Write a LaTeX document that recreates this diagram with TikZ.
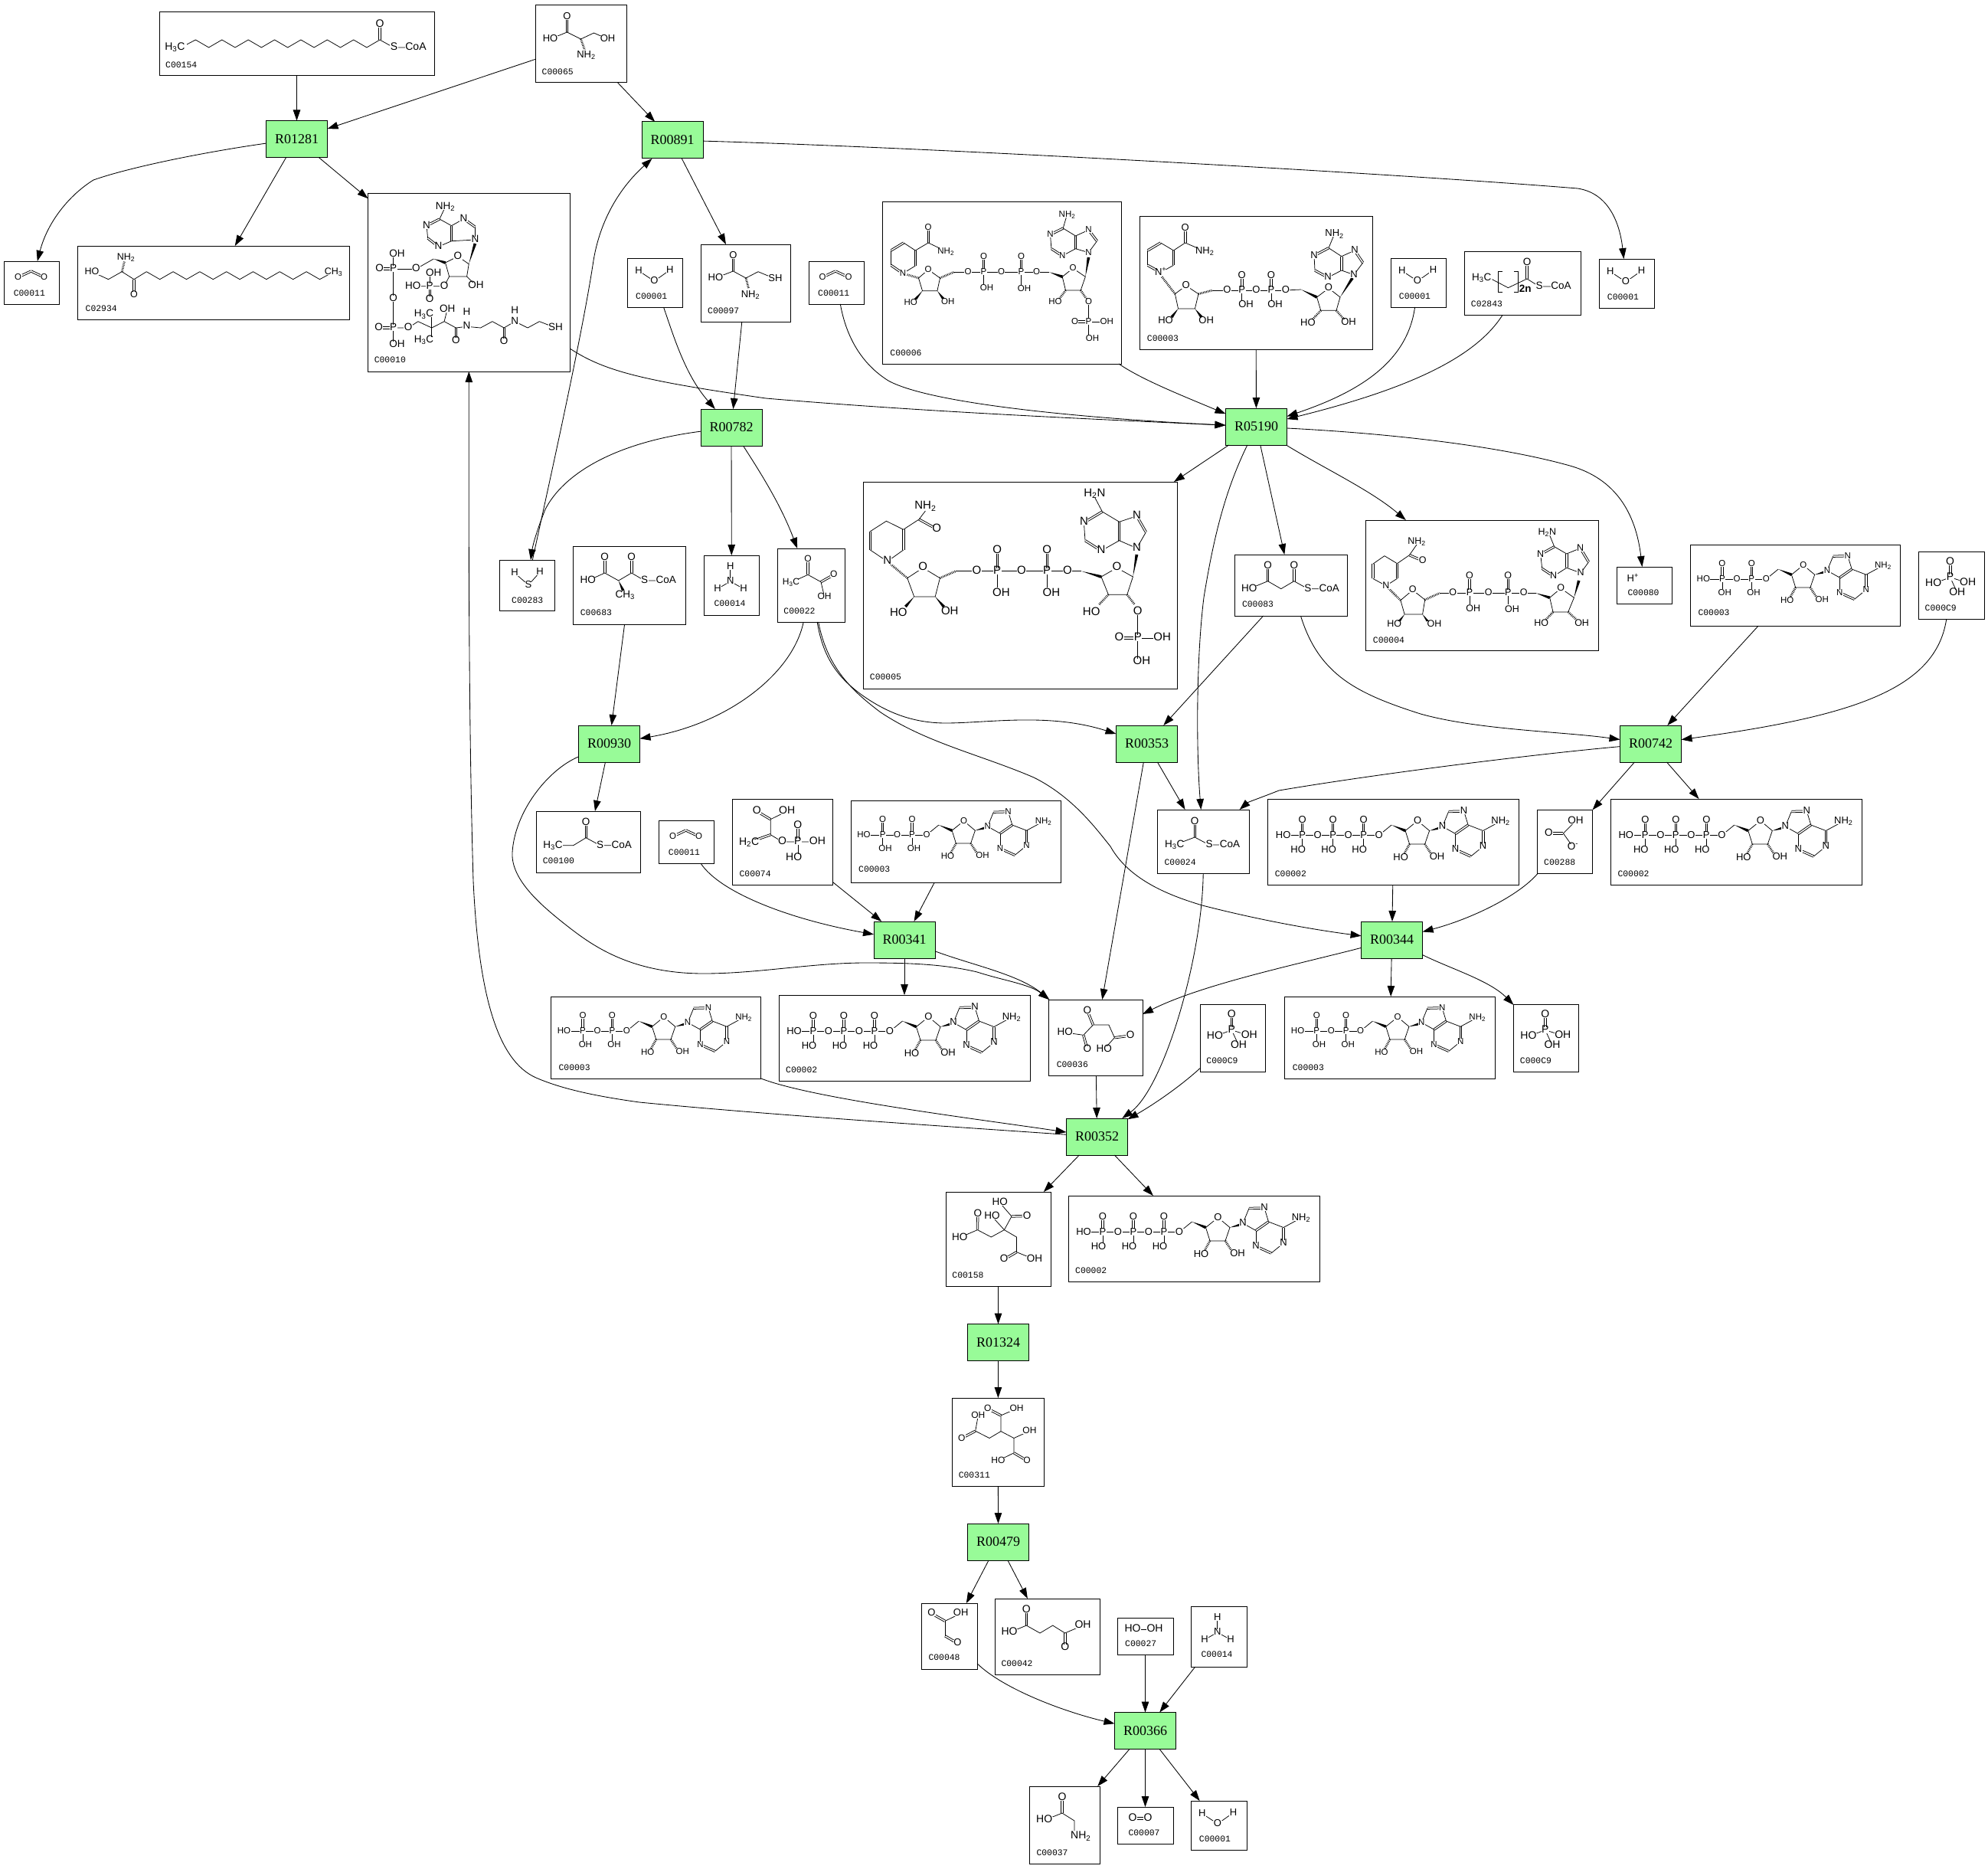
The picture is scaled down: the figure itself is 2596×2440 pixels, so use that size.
\documentclass[tikz,border=0pt]{standalone}
\usepackage{fontspec}
\setmainfont{Liberation Sans}
\newfontfamily\rxnfont{Liberation Serif}
\newfontfamily\lblfontf{Liberation Mono}
\usetikzlibrary{arrows.meta,calc}
\definecolor{rxgreen}{RGB}{152,251,152}
\def\atomfont{\fontsize{13}{13}\selectfont}
\def\afs#1{\def\atomfont{\fontsize{#1}{#1}\selectfont}}
\newcount\atn
\def\At(#1,#2)#3{\global\advance\atn by 1\relax\node[atom] (at\the\atn) at (#1,#2) {#3};}
\def\Bnd#1;{\draw[bond] #1;}
\def\Dbl(#1)--(#2);{\draw[bond] ($(#1)!1.25pt!90:(#2)$)--($(#2)!1.25pt!-90:(#1)$) ($(#1)!1.25pt!-90:(#2)$)--($(#2)!1.25pt!90:(#1)$);}
\def\Wdg(#1)(#2){\fill (#1) -- ($(#2)!1.9pt!90:(#1)$) -- ($(#2)!1.9pt!-90:(#1)$) -- cycle;}
\def\Hsh(#1)(#2){\draw[line width=2.8pt,dash pattern=on .8pt off 1.3pt] (#1)--(#2);}
\def\NHt{NH\textsubscript{2}}
\def\Hc{H\textsubscript{3}C}
% purine: C6 N1 C2 N3 C4 C5 N7 C8 N9
\newcommand\Pur[9]{\Dbl(#1)--(#2); \Bnd (#2)--(#3); \Dbl(#3)--(#4); \Bnd (#4)--(#5); \Dbl(#5)--(#6); \Bnd (#6)--(#1);
 \Bnd (#6)--(#7); \Dbl(#7)--(#8); \Bnd (#8)--(#9)--(#5);
 \At(#2){N}\At(#4){N}\At(#7){N}\At(#9){N}}
% ribose ring: C4' O C1' C2' C3'
\newcommand\Sug[5]{\Bnd (#1)--(#2)--(#3)--(#4)--(#5)--cycle; \At(#2){O}}
% adenosine relative to the 5' oxygen
\newcommand\Ado[3]{\begin{scope}[shift={(#1,#2)},scale=#3]
 \Bnd (0,0)--(16.5,-13.5); \Wdg(16.5,-13.5)(34.5,-6)
 \Sug{34.5,-6}{50.5,-19}{66,-6}{60,11.5}{40,11.5}
 \Hsh(40,11.5)(33,24) \Hsh(60,11.5)(68,24)
 \At(28.5,29.5){HO}\At(76,28){OH}
 \Wdg(66,-6)(81,-10)
 \Bnd (136,-6)--(159,-18.5);
 \Pur{136,-6}{136,14.5}{120,27.5}{100,18.5}{100,-2}{116.5,-13.5}{111,-31.5}{91,-31}{83,-11.5}
 \At(159,-18.5){\NHt}
 \end{scope}}
\newcommand\ATPmol{\afs{13}
 \Bnd (20,47.5)--(145,47.5);
 \Dbl(45,28)--(45,47.5); \Dbl(85,28)--(85,47.5); \Dbl(125,28)--(125,47.5);
 \Bnd (45,47.5)--(45,62); \Bnd (85,47.5)--(85,62); \Bnd (125,47.5)--(125,62);
 \Ado{145}{47.5}{1}
 \At(20,47.5){HO}\At(45,47.5){P}\At(65,47.5){O}\At(85,47.5){P}\At(105,47.5){O}\At(125,47.5){P}\At(145,47.5){O}
 \At(45,28){O}\At(85,28){O}\At(125,28){O}
 \At(39.5,67){HO}\At(79.5,67){HO}\At(119.5,67){HO}}
\newcommand\ADPmol{\afs{11.5}
 \Bnd (17,45)--(99,45);
 \Dbl(41.6,25)--(41.6,45); \Dbl(80,25)--(80,45);
 \Bnd (41.6,45)--(41.6,58); \Bnd (80,45)--(80,58);
 \Ado{99}{45}{.96}
 \At(17,45){HO}\At(41.6,45){P}\At(60.7,45){O}\At(80,45){P}\At(99,45){O}
 \At(41.6,25){O}\At(80,25){O}\At(45,63){OH}\At(82.6,63){OH}}
\newcommand\COtwo{\afs{11.5}\Dbl(18,21)--(35,13); \Dbl(35,13)--(52,21); \At(18,21){O}\At(52,21){O}}
\newcommand\Water{\afs{13}\Bnd (14.7,16.5)--(35,30)--(55.5,15.5); \At(14.7,16.5){H}\At(35,30){O}\At(55.5,15.5){H}}
\newcommand\PiMol{\afs{14}\Dbl(41.3,14.3)--(41.3,33.7); \Bnd (41.3,33.7)--(19.4,42); \Bnd (41.3,33.7)--(64.3,41); \Bnd (41.3,33.7)--(50.5,53.7);
 \At(41.3,14.3){O}\At(41.3,33.7){P}\At(19.4,42){HO}\At(64.3,41){OH}\At(50.5,53.7){OH}}
\newcommand\Ammonia{\afs{13}\Bnd (34.7,15)--(34.7,34); \Bnd (18,43.7)--(34.7,34)--(52,43.7); \At(34.7,15){H}\At(34.7,34){N}\At(18,43.7){H}\At(52,43.7){H}}
\newcommand\Cpd[9]{%
 \pgfmathsetmacro\cpW{#4-#2}\pgfmathsetmacro\cpH{#5-#3}\pgfmathsetmacro\cpX{(#2+#4)/2}\pgfmathsetmacro\cpY{(#3+#5)/2}%
 \node[cpd,minimum width=\cpW pt,minimum height=\cpH pt] (#1) at (\cpX,\cpY) {};
 \begin{scope}[shift={(#2,#3)}] #9 \node[lbl] (#1-l) at (#7,#8) {#6}; \end{scope}}
\tikzset{
 cpd/.style={draw,line width=1pt,inner sep=0,outer sep=0,fill=white},
 rxn/.style={draw,line width=1pt,fill=rxgreen,inner sep=0,outer sep=0,minimum width=80pt,minimum height=48pt,font=\rxnfont\fontsize{18}{18}\selectfont},
 lbl/.style={anchor=west,inner sep=0,font=\lblfontf\fontsize{11.4}{11.4}\selectfont},
 atom/.style={inner sep=.5pt,fill=white,text height=.72em,text depth=0pt,font=\atomfont},
 bond/.style={line width=.75pt},
 arr/.style={-{Triangle[length=14pt,width=9.5pt]},line width=.85pt}
}
\begin{document}
\begin{tikzpicture}[x=1pt,y=-1pt]
\useasboundingbox (0,0) rectangle (2596,2440);
\fill[white] (0,0) rectangle (2596,2440);
% ---- reactions
\foreach \nm/\px/\py in {R01281/387.5/181.5,R00891/878/183,R00782/955/558,R05190/1640.5/557,R00930/795.5/971,R00353/1497.5/971,R00742/2155.5/971,R00341/1181/1227,R00344/1817.6/1227,R00352/1432.5/1484,R01324/1303.5/1752.5,R00479/1303.5/2013,R00366/1495.5/2259.5}{
 \node[rxn] (\nm) at (\px,\py) {\nm};
}
% ---- compounds
\Cpd{c154}{208}{16}{567}{99}{C00154}{8}{68.7}{\afs{14}
 \Bnd (36,42)--(47.4,36)--(64.6,46)--(81.8,36)--(99,46)--(116.2,36)--(133.4,46)--(150.5,36)--(167.7,46)--(184.9,36)--(202.1,46)--(219.3,36)--(236.5,46)--(253.7,36)--(270.9,46)--(288,36)--(306,46)--(335,46);
 \Dbl(288,16)--(288,36);
 \At(20.4,46){\Hc}\At(288,16){O}\At(306.6,46){S}\At(335,46){CoA}}
\Cpd{c65}{699.5}{7}{818}{108}{C00065}{8}{87}{\afs{13}
 \Dbl(41,15)--(41,35); \Bnd (19,44)--(41,35)--(59,44)--(76,36)--(94,44); \Hsh(59,44)(64,58)
 \At(41,15){O}\At(19,44){HO}\At(94,44){OH}\At(66,65){\NHt}}
\Cpd{c97}{915.7}{319}{1032}{420}{C00097}{8.3}{86.7}{\afs{13}
 \Dbl(41.7,14.7)--(41.7,35); \Bnd (18.7,44)--(41.7,35)--(58.3,44)--(74.3,35.7)--(96.7,45); \Hsh(58.3,44)(62,58)
 \At(41.7,14.7){O}\At(18.7,44){HO}\At(96.7,45){SH}\At(64.3,65.7){\NHt}}
\Cpd{c11a}{5.6}{341}{77.5}{397}{C00011}{12}{42}{\COtwo}
\Cpd{c11c}{1056}{341}{1128.6}{397}{C00011}{12}{42}{\COtwo}
\Cpd{c11m}{860.7}{1071}{932.4}{1127}{C00011}{12}{42}{\COtwo}
\Cpd{c2934}{101.5}{321}{456.6}{417}{C02934}{10}{82}{\afs{12.5}
 \Bnd (18.4,33.7)--(40,43.7)--(57.7,33.7)--(73.5,43.7)--(89.8,33.7)--(107.2,43.7)--(124.6,33.7)--(142,43.7)--(159.4,33.7)--(176.8,43.7)--(194.2,33.7)--(211.6,43.7)--(229,33.7)--(246.4,43.7)--(263.8,33.7)--(281.2,43.7)--(298.6,33.7)--(316,43.7)--(334,34);
 \Dbl(73.5,43.7)--(73.5,63.7); \Hsh(57.7,33.7)(61,20)
 \At(18.4,33.7){HO}\At(63,15){\NHt}\At(73.5,63.7){O}\At(334,34){CH\textsubscript{3}}}
\Cpd{c10}{480.6}{253}{744.4}{485}{C00010}{8}{216.7}{\afs{13.5}
 \Bnd (93.4,33)--(101,16.7);
 \Pur{93.4,33}{76.5,41.7}{78,58}{92,69}{109,61.7}{109,41.7}{125,32.7}{139.8,43.3}{139.8,60}
 \At(101,16.7){\NHt}
 \Wdg(131.6,91.7)(139.8,65)
 \Sug{101,90}{117.3,81.7}{131.6,91.7}{129,108}{106,108}
 \Wdg(85.7,85)(101,90)
 \Bnd (129,108)--(141,120); \Bnd (106,108)--(99.5,120.7)--(58.7,120.7); \Bnd (80.6,104)--(80.6,120.7); \Dbl(80.6,120.7)--(80.6,138);
 \Bnd (62.8,98)--(85.7,85); \Bnd (62.8,98)--(33,98); \Dbl(15,98)--(33,98); \Bnd (33,79)--(33,175); \Dbl(14,175)--(33,175); \Bnd (33,175)--(33,196);
 \Bnd (33,175)--(52.5,175)--(65.3,166.7)--(83.2,175)--(99.5,166.7)--(114.8,175)--(129,173.3)--(146.9,175)--(162.3,166.7)--(177.6,175)--(191.6,166.7)--(208.5,175)--(223.8,166.7)--(245,175);
 \Bnd (83.2,157)--(83.2,191); \Bnd (99.5,166.7)--(103.6,150.7); \Dbl(114.8,175)--(114.8,191.7); \Dbl(177.6,175)--(177.6,192.7);
 \At(141,120){OH}\At(99.5,120.7){O}\At(80.6,120.7){P}\At(58.7,120.7){HO}\At(85.7,104){OH}\At(80.6,138){O}
 \At(62.8,98){O}\At(33,98){P}\At(15,98){O}\At(38,79){OH}\At(33,136.7){O}\At(33,175){P}\At(14,175){O}\At(38,196.7){OH}\At(52.5,175){O}
 \At(73,157.3){\Hc}\At(73,190.7){\Hc}\At(103.6,150.7){OH}\At(114.8,191.7){O}\At(129,173.3){N}\At(129,155){H}\At(177.6,192.7){O}\At(191.6,166.7){N}\At(191.6,153){H}\At(245,175){SH}}
\Cpd{c1b}{819.3}{337}{891.7}{401}{C00001}{10.7}{50}{\Water}
\Cpd{c1d}{1816}{337}{1888}{401}{C00001}{10.7}{50}{\Water}
\Cpd{c1e}{2088}{338}{2160}{402}{C00001}{10.7}{50}{\Water}
\Cpd{c1f}{1555}{2351}{1628}{2415}{C00001}{10.7}{50}{\Water}
\Cpd{c6}{1152.5}{264}{1464}{475}{C00006}{9.7}{196.7}{\afs{11.5}
 \Dbl(26.5,93)--(11,82.3); \Bnd (11,82.3)--(11,63); \Dbl(11,63)--(27.5,53); \Bnd (27.5,53)--(42.8,63); \Dbl(42.8,63)--(42.8,83); \Bnd (42.8,83)--(26.5,93);
 \Bnd (42.8,63)--(59.7,53)--(82.7,64); \Dbl(59.7,33)--(59.7,53);
 \Hsh(47,99)(26.5,93)
 \Sug{75,99}{59.7,88}{47,99}{52,115.7}{71.4,115.7}
 \Wdg(52,115.7)(42,128) \Wdg(71.4,115.7)(80,127)
 \At(26.5,93){N}\At(59.7,33){O}\At(82.7,64){\NHt}\At(36.7,131.3){HO}\At(85.2,130){OH}
 \Hsh(75,99)(92.8,91.3)
 \Bnd (92.8,91.3)--(201,91.3); \Dbl(132,70.7)--(132,91.3); \Dbl(181,70.7)--(181,91.3); \Bnd (132,91.3)--(132,107); \Bnd (181,91.3)--(181,108);
 \At(111.7,91.3){O}\At(132,91.3){P}\At(132,70.7){O}\At(136,112.3){OH}\At(155,91.3){O}\At(181,91.3){P}\At(181,70.7){O}\At(185,113){OH}
 \Bnd (201,91.3)--(217.8,91.3); \At(201,91.3){O} \Wdg(217.8,91.3)(234.7,97.3)
 \Sug{234.7,97.3}{248.5,86.3}{264.8,97.3}{258.7,115}{239,115}
 \Hsh(239,115)(231,126) \Hsh(258.7,115)(266,126)
 \Bnd (269,130)--(269,178); \Bnd (269,156)--(292.8,156); \Dbl(251,156)--(269,156);
 \At(225.5,130){HO}\At(269,130){O}\At(269,156){P}\At(251,156){O}\At(292.8,156){OH}\At(274,178){OH}
 \Wdg(264.8,97.3)(269,72)
 \Bnd (235.7,34)--(241,15.7);
 \Pur{235.7,34}{219,42.3}{220.4,60.7}{234.7,70}{252,60.7}{252,44}{269,36.3}{280,50.7}{269,65.7}
 \At(241,15.7){\NHt}}
\Cpd{c3t}{1488}{283}{1792}{456}{C00003}{9.7}{158.7}{\afs{13}
 \Dbl(27.6,72.7)--(10.7,63.3); \Bnd (10.7,63.3)--(10.7,44); \Dbl(10.7,44)--(27.6,34); \Bnd (27.6,34)--(44.4,44); \Dbl(44.4,44)--(44.4,63.3); \Bnd (44.4,63.3)--(27.6,72.7);
 \Bnd (44.4,44)--(59.7,34)--(85.2,45); \Dbl(59.7,15)--(59.7,34);
 \Hsh(46.4,100.7)(29,78)
 \Sug{77,100.7}{60.7,90}{46.4,100.7}{50.5,120}{72.4,120}
 \Wdg(50.5,120)(42,131) \Wdg(72.4,120)(81,131)
 \At(27.6,72.7){N\textsuperscript{+}}\At(59.7,15){O}\At(85.2,45){\NHt}\At(34,136){HO}\At(87.2,136){OH}
 \Hsh(77,100.7)(95.4,96)
 \Bnd (95.4,96)--(190.8,96); \Dbl(133.7,76.7)--(133.7,96); \Dbl(172,76.7)--(172,96); \Bnd (133.7,96)--(133.7,110); \Bnd (172,96)--(172,110);
 \At(114.3,96){O}\At(133.7,96){P}\At(133.7,76.7){O}\At(139,115){OH}\At(152.5,96){O}\At(172,96){P}\At(172,76.7){O}\At(177,115){OH}
 \Bnd (190.8,96)--(211,95); \At(190.8,96){O} \Wdg(211,95)(231.6,105)
 \Sug{231.6,105}{247,93.3}{262,105}{257,122.3}{236.7,122.3}
 \Hsh(236.7,122.3)(226,134) \Hsh(257,122.3)(267,134)
 \At(219.9,139){HO}\At(273,137.7){OH}
 \Wdg(262,105)(278,80)
 \Bnd (247,40.7)--(254.6,22.3);
 \Pur{247,40.7}{228,50.7}{229,70}{246,79.3}{263.8,70}{263.8,51.7}{281,44}{291.7,60}{280,75.7}
 \At(254.6,22.3){\NHt}}
\Cpd{c2843}{1912.7}{328}{2064}{411}{C02843}{8}{69}{\afs{13.5}
 \Bnd (35.7,36.7)--(56.7,47.7)--(81.3,36)--(97.3,46)--(125.7,46);
 \Dbl(81.3,15)--(81.3,36);
 \draw[bond] (49,26.7)--(44,26.7)--(44,53.3)--(49,53.3) (64.7,26.7)--(69.7,26.7)--(69.7,53.3)--(64.7,53.3);
 \At(22,35){\Hc}\At(81.3,15){O}\At(97.3,46){S}\At(125.7,46){CoA}
 \node[inner sep=0,font=\atomfont\bfseries] (n2n) at (79,49) {2n};}
\Cpd{c5}{1127.4}{629}{1537.5}{899}{C00005}{8.3}{255}{\afs{15}
 \Bnd (31.3,104)--(9,89); \Dbl(9,89)--(9,64.7); \Bnd (9,64.7)--(30,51.3)--(52.3,62.3); \Dbl(52.3,62.3)--(52.3,89); \Bnd (52.3,89)--(31.3,104);
 \Bnd (52.3,62.3)--(72.7,49)--(81,38); \Dbl(72.7,49)--(95.7,61.7);
 \Hsh(57.4,125.7)(31.3,104)
 \Sug{100,125.7}{77.8,112.3}{57.4,125.7}{66.3,150}{93.8,150}
 \Wdg(66.3,150)(55,163) \Wdg(93.8,150)(105,163)
 \At(31.3,104){N}\At(95.7,61.7){O}\At(81,32.3){\NHt}\At(46,172.3){HO}\At(112.9,170){OH}
 \Hsh(100,125.7)(120.5,116.7)
 \Bnd (120.5,116.7)--(266.6,116.7); \Dbl(174.8,90)--(174.8,116.7); \Dbl(239.8,90)--(239.8,116.7); \Bnd (174.8,116.7)--(174.8,138); \Bnd (239.8,116.7)--(239.8,138);
 \At(148,116.7){O}\At(174.8,116.7){P}\At(174.8,90){O}\At(180,145.7){OH}\At(206.6,116.7){O}\At(239.8,116.7){P}\At(239.8,90){O}\At(245.5,145.7){OH}
 \Bnd (266.6,116.7)--(285,116.7); \At(266.6,116.7){O} \Wdg(285,116.7)(310.6,124)
 \Sug{310.6,124}{331,112.3}{352,124}{344.4,147.3}{320,147.3}
 \Hsh(320,147.3)(308,160) \Hsh(344.4,147.3)(354,160)
 \Bnd (358.4,170)--(358.4,235); \Bnd (358.4,204)--(390.3,204); \Dbl(334,204)--(358.4,204);
 \At(297.8,170.7){HO}\At(358.4,170){O}\At(358.4,204){P}\At(334,204){O}\At(390.3,204){OH}\At(363.5,235){OH}
 \Wdg(352,124)(357,95)
 \Bnd (312,39)--(302,20);
 \Pur{312,39}{288,53.3}{289.6,76.7}{310.6,90}{334.2,76.7}{334.2,52.3}{357,44.7}{369,65.7}{357,86.7}
 \At(302,15.7){H\textsubscript{2}N}}
\Cpd{c83}{1612.8}{724}{1759.4}{804}{C00083}{9}{65}{\afs{13.5}
 \Dbl(42.7,14.7)--(42.7,34.7); \Dbl(77,14.7)--(77,34.7);
 \Bnd (18.5,44.7)--(42.7,34.7)--(60,44.7)--(77,34.7)--(95,44.7)--(123,44.7);
 \At(42.7,14.7){O}\At(77,14.7){O}\At(18.5,44.7){HO}\At(95,44.7){S}\At(123,44.7){CoA}}
\Cpd{c4}{1783.7}{679}{2087}{849}{C00004}{9}{156.7}{\afs{12.5}
 \Bnd (26.2,85.7)--(9,76.3); \Dbl(9,76.3)--(9,57.3); \Bnd (9,57.3)--(24.2,46.7)--(40.8,56.7); \Dbl(40.8,56.7)--(40.8,76.3); \Bnd (40.8,76.3)--(26.2,85.7);
 \Bnd (40.8,56.7)--(56.7,45.7)--(66.3,32); \Dbl(56.7,45.7)--(73.9,53);
 \Hsh(45.2,104.7)(26.2,85.7)
 \Sug{77,104}{61,91.3}{45.2,104.7}{50.4,123}{73.9,123}
 \Wdg(50.4,123)(42,134) \Wdg(73.9,123)(82,134)
 \At(26.2,85.7){N}\At(73.9,53){O}\At(66.3,28){\NHt}\At(37,136.3){HO}\At(89.3,135.7){OH}
 \Hsh(77,104)(96.3,95.3)
 \Bnd (96.3,95.3)--(206,95.3); \Dbl(135.2,73)--(135.2,95.3); \Dbl(185.6,73)--(185.6,95.3); \Bnd (135.2,95.3)--(135.2,110); \Bnd (185.6,95.3)--(185.6,110);
 \At(113.5,95.3){O}\At(135.2,95.3){P}\At(135.2,73){O}\At(140,115.7){OH}\At(160,95.3){O}\At(185.6,95.3){P}\At(185.6,73){O}\At(190.7,116.7){OH}
 \Bnd (206,95.3)--(222,95.3); \At(206,95.3){O} \Wdg(222,95.3)(240,101.3)
 \Sug{240,101.3}{254.5,89}{271.7,101.3}{264,120}{244.3,120}
 \Hsh(244.3,120)(235,130) \Hsh(264,120)(275,130)
 \At(229,134.7){HO}\At(281.9,134.7){OH}
 \Wdg(271.7,101.3)(278,79)
 \Bnd (246,34.7)--(240,20);
 \Pur{246,34.7}{228,44.7}{230,63.3}{245,73.3}{262,62.3}{262,44}{280,36.7}{290.8,54.7}{280.5,69}
 \At(236.6,15.7){H\textsubscript{2}N}}
\Cpd{c80}{2111.3}{740}{2183.3}{788}{C00080}{14}{33.7}{\afs{13}\At(21,15.7){H\textsuperscript{+}}}
\Cpd{c3r}{2207.3}{711}{2481.7}{817}{C00003}{10}{89}{\ADPmol}
\Cpd{c9r}{2505.3}{720}{2591.3}{808}{C000C9}{8.2}{73.7}{\PiMol}
\Cpd{c283}{652}{731}{724.5}{797}{C00283}{16}{52.7}{\afs{13}\Bnd (20,17)--(38,32.7)--(53,16); \At(20,17){H}\At(38,32.7){S}\At(53,16){H}}
\Cpd{c683}{748.7}{713}{895.6}{815}{C00683}{9}{86.7}{\afs{13.5}
 \Dbl(41,15)--(41,35); \Dbl(76,15)--(76,35); \Bnd (19,45)--(41,35)--(59,45)--(76,35)--(93,45)--(121,45); \Wdg(59,45)(65,58)
 \At(41,15){O}\At(76,15){O}\At(19,45){HO}\At(93,45){S}\At(121,45){CoA}\At(67.5,64){CH\textsubscript{3}}}
\Cpd{c14a}{919}{725}{991.6}{803}{C00014}{13.3}{62.7}{\Ammonia}
\Cpd{c14b}{1555}{2097}{1628}{2176}{C00014}{13.3}{62.7}{\Ammonia}
\Cpd{c22}{1015}{716}{1103.5}{812}{C00022}{8.2}{81.7}{\afs{12}
 \Dbl(40,14.3)--(40,34.3); \Bnd (18,44.3)--(40,34.3)--(57,43.7)--(61.6,63); \Dbl(57,43.7)--(73.7,34.3);
 \At(40,14.3){O}\At(18,44.3){\Hc}\At(73.7,34.3){O}\At(61.6,63){OH}}
\Cpd{c100}{700.7}{1059}{836.4}{1139}{C00100}{8}{64.7}{\afs{13.5}
 \Dbl(64.5,14.7)--(64.5,34.7); \Bnd (21.3,44.7)--(48,44.7)--(64.5,34.7)--(83,44.7)--(111,44.7);
 \At(64.5,14.7){O}\At(21.3,44.7){\Hc}\At(83,44.7){S}\At(111,44.7){CoA}}
\Cpd{c74}{956.7}{1043}{1087.5}{1155}{C00074}{8.7}{97.7}{\afs{14}
 \Dbl(31.6,16)--(49.5,26.7); \Bnd (49.5,26.7)--(71,16); \Bnd (49.5,26.7)--(49.5,46.7)--(64.8,56)--(110.7,56); \Dbl(49.5,46.7)--(21.4,56.7); \Dbl(85.2,35)--(85.2,56); \Bnd (85.2,56)--(85.2,72);
 \At(31.6,16){O}\At(71,16){OH}\At(21.4,56.7){H\textsubscript{2}C}\At(64.8,56){O}\At(85.2,56){P}\At(85.2,35){O}\At(110.7,56){OH}\At(80,77.3){HO}}
\Cpd{c3m}{1111}{1045}{1385.6}{1152}{C00003}{10}{90}{\ADPmol}
\Cpd{c24}{1511.7}{1057}{1631.6}{1140}{C00024}{8.7}{68.7}{\afs{13.5}
 \Dbl(48.5,16)--(48.5,36); \Bnd (22,46)--(48.5,36)--(67.3,46)--(94.4,46);
 \At(48.5,16){O}\At(22,46){\Hc}\At(67.3,46){S}\At(94.4,46){CoA}}
\Cpd{c2a}{1655.6}{1043}{1983.7}{1155}{C00002}{9}{97.5}{\ATPmol}
\Cpd{c2b}{2103.3}{1043}{2431.7}{1155}{C00002}{9}{97.5}{\ATPmol}
\Cpd{c2d}{1017}{1299}{1345}{1411}{C00002}{9}{97.5}{\ATPmol}
\Cpd{c2e}{1395}{1561}{1723.6}{1673.5}{C00002}{9}{97.5}{\ATPmol}
\Cpd{c288}{2007}{1057}{2079.5}{1140}{C00288}{9}{68.7}{\afs{13.5}
 \Dbl(15.3,31)--(34.4,31); \Bnd (50.4,15)--(34.4,31)--(47,48.7);
 \At(15.3,31){O}\At(50.4,15){OH}\At(47,48.7){O\textsuperscript{-}}}
\Cpd{c3p}{719.4}{1301}{993.4}{1408}{C00003}{10}{93}{\ADPmol}
\Cpd{c3n}{1677.6}{1301}{1952.6}{1408}{C00003}{10}{93}{\ADPmol}
\Cpd{c36}{1369.4}{1305}{1492}{1404}{C00036}{10.2}{84.7}{\afs{13.5}
 \Dbl(50.5,14.7)--(58,33); \Bnd (58,33)--(78.5,33)--(86,49.7); \Dbl(86,49.7)--(106.6,47); \Bnd (86,49.7)--(72.4,64.7); \Bnd (58,33)--(45.4,46.3)--(21.4,43); \Dbl(45.4,46.3)--(50.5,64.7);
 \At(50.5,14.7){O}\At(106.6,47){O}\At(72.4,64.7){HO}\At(21.4,43){HO}\At(50.5,64.7){O}}
\Cpd{c9l}{1567}{1311}{1652.5}{1399}{C000C9}{8.2}{73.7}{\PiMol}
\Cpd{c9rr}{1976.5}{1311}{2061.7}{1399}{C000C9}{8.2}{73.7}{\PiMol}
\Cpd{c158}{1235}{1556}{1372}{1679}{C00158}{8.2}{108.6}{\afs{13.5}
 \Bnd (70.7,14.3)--(86,32)--(76.4,49.6)--(60.4,32); \Dbl(86,32)--(106,31.4);
 \Bnd (18.2,59.6)--(41.4,49.6)--(59.3,59)--(76.4,49.6)--(92.5,59)--(92.5,78.6)--(116,88.2); \Dbl(41.4,49.6)--(41.8,29.3); \Dbl(92.5,78.6)--(76,88.2);
 \At(70.7,14.3){HO}\At(106,31.4){O}\At(60.4,32){HO}\At(41.8,29.3){O}\At(18.2,59.6){HO}\At(76,88.2){O}\At(116,88.2){OH}}
\Cpd{c311}{1243}{1825}{1363.6}{1940}{C00311}{8.6}{100.4}{\afs{12}
 \Dbl(46.8,14)--(64,22.9); \Bnd (64,22.9)--(84.6,14); \Bnd (64,22.9)--(64,43.6)--(49,52.5)--(30.7,43.2)--(34.3,22.9); \Dbl(30.7,43.2)--(12.9,52.5); \Bnd (64,43.6)--(81,52.5)--(101.4,43.2); \Bnd (81,52.5)--(81,71.8)--(60.4,81.8); \Dbl(81,71.8)--(97.9,81.8);
 \At(46.8,14){O}\At(84.6,14){OH}\At(34.3,22.9){OH}\At(12.9,52.5){O}\At(101.4,43.2){OH}\At(60.4,81.8){HO}\At(97.9,81.8){O}}
\Cpd{c48}{1203}{2093}{1276}{2179}{C00048}{9.3}{70.7}{\afs{13}
 \Dbl(13.3,13.3)--(31,23.3); \Bnd (31,23.3)--(51.7,13.3); \Bnd (31,23.3)--(31,42.7); \Dbl(31,42.7)--(47.3,52.3);
 \At(13.3,13.3){O}\At(51.7,13.3){OH}\At(47.3,52.3){O}}
\Cpd{c42}{1299}{2087}{1436}{2186}{C00042}{8.3}{84.7}{\afs{14}
 \Dbl(41.3,15)--(41.3,35); \Dbl(91.7,45)--(91.7,64.3); \Bnd (19,44.3)--(41.3,35)--(59,45)--(75.7,35)--(91.7,45)--(115,35);
 \At(41.3,15){O}\At(19,44.3){HO}\At(91.7,64.3){O}\At(115,35){OH}}
\Cpd{c27}{1459}{2112}{1532}{2160}{C00027}{10}{33.7}{\afs{14}\Bnd (20,15)--(50,15); \At(20,15){HO}\At(49,15){OH}}
\Cpd{c37}{1344}{2332}{1436}{2433}{C00037}{9.3}{86.7}{\afs{14}
 \Dbl(43,15)--(43,35); \Bnd (19.7,44.3)--(43,35)--(59,45)--(59,58);
 \At(43,15){O}\At(19.7,44.3){HO}\At(67.3,65.3){\NHt}}
\Cpd{c7}{1459}{2359}{1532}{2407}{C00007}{14.3}{33.3}{\afs{14}\Dbl(21,14.7)--(39,14.7); \At(20,14.7){O}\At(40,14.7){O}}
% ---- connectors
\draw[arr] (c154) -- (R01281);
\draw[arr] (c65) -- (R01281);
\draw[arr] (c65) -- (R00891);
\draw[arr] (R01281) .. controls (270,198) and (170,218) .. (122,235) .. controls (90,255) and (62,290) .. (c11a);
\draw[arr] (R01281) -- (c2934);
\draw[arr] (R01281) -- (c10);
\draw[arr] (c10) .. controls (790,485) and (840,497) .. (1000,520) .. controls (1200,537) and (1400,546) .. (R05190);
\draw[arr] (c11c) .. controls (1105,440) and (1125,475) .. (1160,497) .. controls (1220,530) and (1450,548) .. (R05190);
\draw[arr] (c6) .. controls (1490,495) and (1540,515) .. (R05190);
\draw[arr] (c3t) -- (R05190);
\draw[arr] (c1d) .. controls (1838,470) and (1780,510) .. (R05190);
\draw[arr] (c2843) .. controls (1925,470) and (1830,510) .. (R05190);
\draw[arr] (R05190) -- (c5);
\draw[arr] (R05190) .. controls (1600,640) and (1585,700) .. (1572,780) .. controls (1562,860) and (1562,980) .. (c24);
\draw[arr] (R05190) -- (c83);
\draw[arr] (R05190) .. controls (1730,612) and (1790,640) .. (c4);
\draw[arr] (R05190) .. controls (1800,565) and (1950,580) .. (2050,608) .. controls (2110,625) and (2136,670) .. (c80);
\draw[arr] (R00891) .. controls (1200,192) and (1800,225) .. (2060,246) .. controls (2100,252) and (2115,290) .. (c1e);
\draw[arr] (R00891) -- (c97);
\draw[arr] (c1b) .. controls (880,440) and (895,490) .. (R00782);
\draw[arr] (c97) -- (R00782);
\draw[arr] (c283) .. controls (715,640) and (760,440) .. (775,340) .. controls (785,280) and (815,240) .. (R00891);
\draw[arr] (R00782) .. controls (800,578) and (735,620) .. (712,665) .. controls (702,690) and (696,710) .. (c283);
\draw[arr] (R00782) -- (c14a);
\draw[arr] (R00782) .. controls (995,620) and (1020,660) .. (c22);
\draw[arr] (c683) -- (R00930);
\draw[arr] (c22) .. controls (1035,880) and (950,945) .. (R00930);
\draw[arr] (c22) .. controls (1075,860) and (1095,885) .. (1125,907) .. controls (1160,932) and (1195,944) .. (1235,944) .. controls (1290,944) and (1370,930) .. (R00353);
\draw[arr] (c22) .. controls (1080,870) and (1110,900) .. (1150,930) .. controls (1210,970) and (1280,985) .. (1350,1015) .. controls (1400,1040) and (1430,1080) .. (1450,1105) .. controls (1475,1150) and (1530,1170) .. (1570,1182) .. controls (1640,1200) and (1710,1213) .. (R00344);
\draw[arr] (c83) -- (R00353);
\draw[arr] (c83) .. controls (1722,880) and (1770,905) .. (1855,932) .. controls (1930,953) and (2040,955) .. (R00742);
\draw[arr] (c3r) -- (R00742);
\draw[arr] (c9r) .. controls (2528,900) and (2420,935) .. (R00742);
\draw[arr] (R00742) .. controls (2000,985) and (1800,1010) .. (1670,1032) .. controls (1650,1040) and (1630,1047) .. (c24);
\draw[arr] (R00742) -- (c288);
\draw[arr] (R00742) -- (c2b);
\draw[arr] (R00353) -- (c24);
\draw[arr] (R00353) -- (c36);
\draw[arr] (R00930) -- (c100);
\draw[arr] (R00930) .. controls (715,1005) and (672,1060) .. (669,1113) .. controls (667,1150) and (710,1185) .. (746,1213) .. controls (775,1235) and (825,1271) .. (919,1271) .. controls (990,1271) and (1060,1257) .. (1130,1257) .. controls (1180,1257) and (1230,1258) .. (1276,1269) .. controls (1310,1280) and (1345,1285) .. (c36);
\draw[arr] (R00341) .. controls (1270,1260) and (1330,1272) .. (c36);
\draw[arr] (R00341) -- (c2d);
\draw[arr] (c11m) .. controls (940,1165) and (1030,1200) .. (R00341);
\draw[arr] (c74) -- (R00341);
\draw[arr] (c3m) -- (R00341);
\draw[arr] (c2a) -- (R00344);
\draw[arr] (c288) .. controls (1983,1170) and (1920,1200) .. (R00344);
\draw[arr] (R00344) .. controls (1690,1260) and (1570,1285) .. (c36);
\draw[arr] (R00344) -- (c3n);
\draw[arr] (R00344) .. controls (1895,1265) and (1945,1280) .. (c9rr);
\draw[arr] (c36) -- (R00352);
\draw[arr] (c24) .. controls (1570,1250) and (1520,1420) .. (R00352);
\draw[arr] (c9l) .. controls (1545,1415) and (1510,1440) .. (R00352);
\draw[arr] (c3p) .. controls (1060,1434) and (1270,1460) .. (R00352);
\draw[arr] (R00352) .. controls (1200,1468) and (1000,1455) .. (835,1439) .. controls (770,1430) and (730,1420) .. (700,1407) .. controls (650,1385) and (625,1300) .. (618,1150) .. controls (612,950) and (612,700) .. (c10);
\draw[arr] (R00352) -- (c158);
\draw[arr] (R00352) -- (c2e);
\draw[arr] (c158) -- (R01324);
\draw[arr] (R01324) -- (c311);
\draw[arr] (c311) -- (R00479);
\draw[arr] (R00479) -- (c48);
\draw[arr] (R00479) -- (c42);
\draw[arr] (c48) .. controls (1310,2205) and (1390,2235) .. (R00366);
\draw[arr] (c27) -- (R00366);
\draw[arr] (c14b) -- (R00366);
\draw[arr] (R00366) -- (c37);
\draw[arr] (R00366) -- (c7);
\draw[arr] (R00366) -- (c1f);
\end{tikzpicture}
\end{document}
